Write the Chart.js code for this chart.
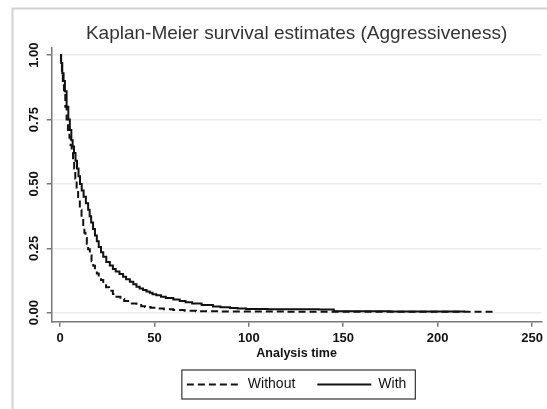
<!DOCTYPE html>
<html>
<head>
<meta charset="utf-8">
<script src="https://cdn.jsdelivr.net/npm/chart.js@4/dist/chart.umd.min.js"></script>
<style>
  html, body { margin: 0; padding: 0; background: #fff; }
  #wrap { width: 547px; height: 409px; }
</style>
</head>
<body>
<div id="wrap"><canvas id="km-chart"></canvas></div>
<script>
// survival estimates (time, S(t))
const withoutTime = [0, 0.5, 1, 1.5, 2.1, 2.8, 3.5, 4.2, 5, 5.6, 6.2, 6.9, 7.5, 8.1, 8.8, 9.6, 10.5, 11.4, 12.3, 12.9, 13.5, 14.2, 14.9, 15.8, 16.7, 17.6, 18.5, 19.5, 20.5, 21.7, 22.9, 24.4, 26, 28, 29.9, 32, 34, 37, 40.5, 43, 45, 48, 51, 55, 60, 66, 72, 85, 120, 229.7];
const withoutSurv = [1, 0.97, 0.94, 0.9, 0.86, 0.8, 0.75, 0.71, 0.68, 0.65, 0.62, 0.59, 0.56, 0.52, 0.48, 0.44, 0.4, 0.37, 0.334, 0.31, 0.29, 0.268, 0.246, 0.222, 0.2, 0.182, 0.166, 0.152, 0.14, 0.127, 0.114, 0.099, 0.085, 0.073, 0.062, 0.053, 0.045, 0.036, 0.03, 0.025, 0.022, 0.019, 0.016, 0.013, 0.01, 0.008, 0.006, 0.005, 0.004, 0.004];

const withTime = [0, 0.6, 1.2, 1.9, 2.6, 3.5, 4.4, 5.2, 6, 6.7, 7.4, 8.2, 9, 9.8, 10.6, 11.5, 12.5, 13.7, 14.9, 15.7, 16.5, 17.5, 18.5, 19.5, 20.5, 21.7, 22.9, 24.5, 26.4, 28, 29.5, 31.5, 33.4, 35, 37, 38.8, 40.5, 42.2, 44, 45.8, 47.5, 49, 51, 53.5, 56, 60, 63.4, 66.5, 70, 75, 81, 85, 90, 94, 98.6, 110, 137, 145, 175, 214];
const withSurv = [1, 0.97, 0.93, 0.9, 0.86, 0.8, 0.75, 0.71, 0.67, 0.645, 0.62, 0.59, 0.56, 0.53, 0.5, 0.475, 0.45, 0.425, 0.4, 0.375, 0.35, 0.325, 0.3, 0.277, 0.255, 0.235, 0.217, 0.197, 0.183, 0.17, 0.16, 0.15, 0.14, 0.13, 0.12, 0.11, 0.101, 0.094, 0.088, 0.082, 0.077, 0.072, 0.068, 0.062, 0.057, 0.051, 0.045, 0.041, 0.036, 0.03, 0.024, 0.021, 0.018, 0.016, 0.014, 0.013, 0.012, 0.006, 0.005, 0.004];

const xTicks = [0, 50, 100, 150, 200, 250];
const yTicks = [0, 0.25, 0.5, 0.75, 1];

const FONT = "'Liberation Sans', Arial, sans-serif";

// white page + light frame, and the box around the legend
const decorations = {
  id: "decorations",
  beforeDraw(chart) {
    const ctx = chart.ctx;
    ctx.save();
    ctx.fillStyle = "#fff";
    ctx.fillRect(0, 0, chart.width, chart.height);
    ctx.strokeStyle = "#d2d2d2";
    ctx.lineWidth = 2;
    ctx.beginPath();
    ctx.moveTo(12.5, chart.height + 5);
    ctx.lineTo(12.5, 8.5);
    ctx.lineTo(chart.width + 5, 8.5);
    ctx.stroke();
    ctx.restore();
  },
  afterDraw(chart) {
    const boxes = chart.legend.legendHitBoxes;
    if (!boxes || !boxes.length) return;
    const first = boxes[0];
    const last = boxes[boxes.length - 1];
    const cy = first.top + first.height / 2;
    const ctx = chart.ctx;
    ctx.save();
    ctx.strokeStyle = "#333";
    ctx.lineWidth = 1.2;
    ctx.strokeRect(first.left - 5, cy - 14.5, last.left + last.width + 9 - (first.left - 5), 29);
    ctx.restore();
  },
};

const kmChart = document.getElementById("km-chart");

new Chart(kmChart, {
  type: "line",
  data: {
    datasets: [
      {
        label: "Without",
        data: withoutTime.map((t, i) => ({ x: t, y: withoutSurv[i] })),
        borderColor: "#111",
        borderWidth: 2,
        borderDash: [7, 4],
        stepped: true,
        pointRadius: 0,
        fill: false,
      },
      {
        label: "With",
        data: withTime.map((t, i) => ({ x: t, y: withSurv[i] })),
        borderColor: "#111",
        borderWidth: 2,
        stepped: true,
        pointRadius: 0,
        fill: false,
      },
    ],
  },
  options: {
    responsive: true,
    maintainAspectRatio: false,
    animation: false,
    layout: { padding: { top: 0, left: 0, right: 4, bottom: 7.5 } },
    plugins: {
      title: {
        display: true,
        text: "Kaplan-Meier survival estimates (Aggressiveness)",
        fullSize: false,
        color: "#333",
        font: { family: FONT, size: 19, weight: "normal" },
        padding: { top: 22, bottom: 3.2 },
      },
      legend: {
        position: "bottom",
        fullSize: false,
        labels: {
          usePointStyle: true,
          pointStyleWidth: 54,
          padding: 22,
          color: "#111",
          font: { family: FONT, size: 14 },
          generateLabels: (chart) =>
            chart.data.datasets.map((ds, i) => ({
              text: ds.label,
              pointStyle: "line",
              strokeStyle: "#111",
              fillStyle: "#111",
              lineWidth: 2,
              lineDash: ds.borderDash || [],
              fontColor: "#111",
              datasetIndex: i,
            })),
        },
      },
      tooltip: { enabled: false },
    },
    scales: {
      x: {
        type: "linear",
        min: -4.4,
        max: 255,
        afterBuildTicks: (scale) => {
          scale.ticks = xTicks.map((v) => ({ value: v }));
        },
        afterFit: (scale) => {
          scale.height = 33.8;
        },
        grid: {
          color: "rgba(0,0,0,0)",
          tickColor: "#777",
          tickLength: 5,
          lineWidth: 1.5,
        },
        border: { color: "#777", width: 1.5 },
        ticks: {
          padding: 4,
          color: "#111",
          maxRotation: 0,
          font: { family: FONT, size: 13, weight: "bold" },
          callback: (v) => String(v),
        },
        title: {
          display: true,
          text: "Analysis time",
          color: "#111",
          font: { family: FONT, size: 12.5, weight: "bold" },
          padding: { top: 0, bottom: -5.5 },
        },
      },
      y: {
        type: "linear",
        min: -0.035,
        max: 1.028,
        afterBuildTicks: (scale) => {
          scale.ticks = yTicks.map((v) => ({ value: v }));
        },
        afterFit: (scale) => {
          scale.width = 51.7;
        },
        grid: {
          color: "#ececec",
          tickColor: "#777",
          tickLength: 5,
          lineWidth: 1.5,
        },
        border: { color: "#777", width: 1.5 },
        ticks: {
          padding: 0,
          color: "#111",
          minRotation: 90,
          maxRotation: 90,
          crossAlign: "center",
          font: { family: FONT, size: 13, weight: "bold" },
          callback: (v) => Number(v).toFixed(2),
        },
      },
    },
  },
  plugins: [decorations],
});
</script>
</body>
</html>
